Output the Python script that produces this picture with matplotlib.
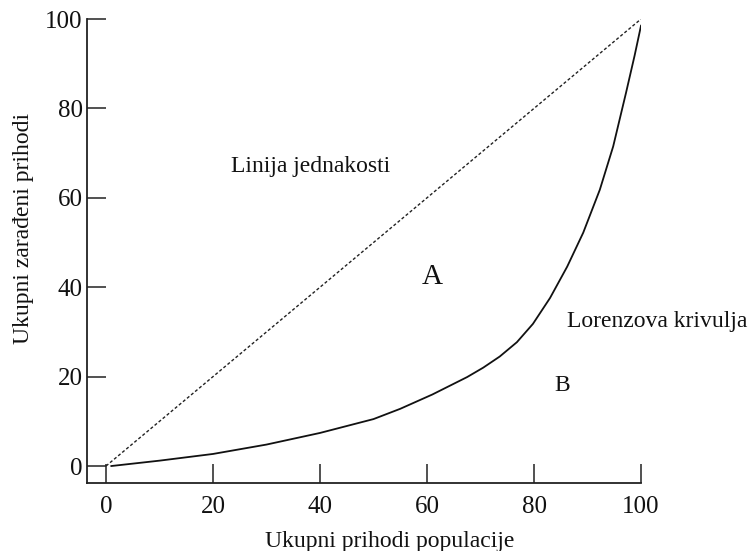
import matplotlib
matplotlib.use("Agg")
import matplotlib.pyplot as plt

# Lorenzova krivulja - tocke ocitane sa slike
populacija = [1, 10, 20, 30, 40, 50, 55, 61, 67.5, 70.5, 73.6, 76.8, 79.8,
              83, 86.2, 89.2, 92.3, 94.8, 97.2, 98.8, 100]
prihodi = [0, 1.2, 2.7, 4.8, 7.4, 10.5, 12.8, 16.0, 19.9, 22.0, 24.5, 27.7,
           31.8, 37.6, 44.6, 52.2, 61.8, 71.5, 83.5, 91.8, 98.5]

jednakost_x = [0, 100]
jednakost_y = [0, 100]

x_ticks = [0, 20, 40, 60, 80, 100]
y_ticks = [0, 20, 40, 60, 80, 100]

plt.rcParams['font.family'] = ['Liberation Serif', 'DejaVu Serif']

fig = plt.figure(figsize=(7.52, 5.51), dpi=100)
ax = fig.add_axes([0.1157, 0.1234, 0.7367, 0.8421])

ax.plot(jednakost_x, jednakost_y, color='#222222', linewidth=1.0,
        linestyle=(0, (2.2, 1.6)))
ax.plot(populacija, prihodi, color='#111111', linewidth=1.3)

ax.set_xlim(-3.55, 100)
ax.set_ylim(-3.8, 100)

for s in ['top', 'right']:
    ax.spines[s].set_visible(False)
for s in ['left', 'bottom']:
    ax.spines[s].set_linewidth(1.3)
    ax.spines[s].set_color('#222222')

ax.set_xticks(x_ticks)
ax.set_yticks(y_ticks)
ax.tick_params(axis='both', direction='in', length=13.5, width=1.1,
               color='#222222', labelsize=18, labelcolor='#111111')
ax.tick_params(axis='x', pad=9)
ax.tick_params(axis='y', pad=3)

# natpisi
ax.text(38.3, 66.9, "Linija jednakosti", fontsize=17, ha='center',
        va='center', color='#111111')
ax.text(103, 32.4, "Lorenzova krivulja", fontsize=17, ha='center',
        va='center', color='#111111', clip_on=False)
ax.text(61, 42.3, "A", fontsize=21, ha='center', va='center', color='#111111')
ax.text(85.2, 18.1, "B", fontsize=17, ha='center', va='center', color='#111111')

fig.text(390 / 752, 1 - 541 / 551, "Ukupni prihodi populacije", fontsize=17,
         ha='center', va='center', color='#111111')
fig.text(24 / 752, 1 - 228 / 551, "Ukupni zarađeni prihodi", fontsize=17,
         ha='center', va='center', rotation=90, color='#111111')

fig.savefig("out.png", dpi=100)
